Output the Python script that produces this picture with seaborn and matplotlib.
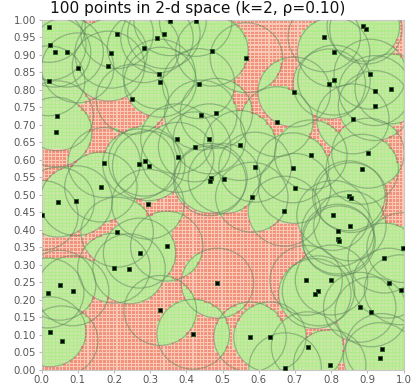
import numpy as np
import pandas as pd
import matplotlib
matplotlib.use("Agg")
import matplotlib.pyplot as plt
from matplotlib.colors import ListedColormap
from matplotlib.patches import Circle
import seaborn as sns

TITLE = "100 points in 2-d space (k=2, \u03c1=0.10)"
K = 2
RHO = 0.10

xs = [0.021, 0.209, 0.338, 0.319, 0.355, 0.426, 0.023, 0.036, 0.071, 0.282,
      0.192, 0.471, 0.100, 0.185, 0.325, 0.328, 0.020, 0.434, 0.251, 0.043,
      0.440, 0.483, 0.039, 0.374, 0.464, 0.423, 0.376, 0.173, 0.269, 0.285,
      0.296, 0.468, 0.465, 0.164, 0.566, 0.698, 0.650, 0.781, 0.889, 0.896,
      0.807, 0.908, 0.808, 0.795, 0.921, 0.966, 0.920, 0.860, 0.548, 0.744,
      0.902, 0.590, 0.694, 0.505, 0.886, 0.699, 0.581, 0.849, 0.855, 0.046,
      0.096, 0.294, 0.001, 0.209, 0.346, 0.271, 0.200, 0.242, 0.486, 0.050,
      0.086, 0.017, 0.328, 0.419, 0.023, 0.056, 0.671, 0.805, 0.852, 0.818,
      0.819, 0.822, 0.999, 0.947, 0.731, 0.801, 0.765, 0.755, 0.959, 0.992,
      0.879, 0.911, 0.576, 0.631, 0.735, 0.940, 0.934, 0.796, 0.673]
ys = [0.979, 0.961, 0.961, 0.948, 0.998, 0.996, 0.928, 0.908, 0.908, 0.921,
      0.905, 0.911, 0.863, 0.868, 0.845, 0.822, 0.826, 0.818, 0.773, 0.726,
      0.728, 0.733, 0.679, 0.660, 0.660, 0.637, 0.607, 0.592, 0.588, 0.596,
      0.583, 0.547, 0.540, 0.522, 0.892, 0.794, 0.709, 0.952, 0.982, 0.974,
      0.908, 0.845, 0.828, 0.817, 0.798, 0.803, 0.755, 0.717, 0.641, 0.614,
      0.619, 0.579, 0.577, 0.546, 0.573, 0.518, 0.493, 0.497, 0.492, 0.479,
      0.483, 0.473, 0.441, 0.393, 0.353, 0.333, 0.290, 0.288, 0.247, 0.241,
      0.225, 0.219, 0.169, 0.101, 0.108, 0.082, 0.453, 0.441, 0.411, 0.395,
      0.373, 0.368, 0.349, 0.319, 0.255, 0.256, 0.225, 0.217, 0.247, 0.228,
      0.178, 0.165, 0.093, 0.093, 0.065, 0.060, 0.034, 0.014, 0.005]

x_ticks = [round(0.1 * i, 1) for i in range(11)]
y_ticks = [round(0.05 * i, 2) for i in range(21)]

N_CELLS = 100

sns.set_style("white")
plt.rcParams['font.family'] = ['DejaVu Sans']

fig = plt.figure(figsize=(4.18, 3.89), dpi=100)
ax = fig.add_axes([41.5 / 418, 19.5 / 389, 362 / 418, 349.5 / 389])

px = np.array(xs)
py = np.array(ys)

# coverage grid: a cell is "dense" if at least K points lie within RHO of its centre
centers = (np.arange(N_CELLS) + 0.5) / N_CELLS
cx, cy = np.meshgrid(centers, centers)
d = np.sqrt((cx[..., None] - px) ** 2 + (cy[..., None] - py) ** 2)
dense = (d <= RHO).sum(axis=-1) >= K

# split mesh to draw each cell with a fill part and a lighter grid-line part
frac = 0.7
edges = []
for i in range(N_CELLS):
    edges += [i / N_CELLS, (i + frac) / N_CELLS]
edges.append(1.0)
edges = np.array(edges)
big = np.repeat(np.repeat(dense, 2, axis=0), 2, axis=1).astype(int)
ii, jj = np.meshgrid(np.arange(2 * N_CELLS), np.arange(2 * N_CELLS))
is_line = ((ii % 2) == 1) | ((jj % 2) == 1)
code = big * 2 + is_line.astype(int)
cmap = ListedColormap(['#F2917C', '#FAC9B6', '#C8E6A6', '#B0EC8C'])
ax.pcolormesh(edges, edges, code, cmap=cmap, vmin=-0.5, vmax=3.5,
              shading='flat', antialiased=False, rasterized=True)

for x, y in zip(xs, ys):
    ax.add_patch(Circle((x, y), RHO, fill=False, edgecolor='#5C845C',
                        alpha=0.5, linewidth=0.9, zorder=3))

df = pd.DataFrame({'x': xs, 'y': ys})
sns.scatterplot(data=df, x='x', y='y', ax=ax, marker='s', s=11,
                color='black', edgecolor='#1E5A1E', linewidth=0.6, zorder=5)

ax.set_xlim(0, 1)
ax.set_ylim(0, 1)
ax.set_xticks(x_ticks)
ax.set_xticklabels([f"{v:.1f}" for v in x_ticks])
ax.set_yticks(y_ticks)
ax.set_yticklabels([f"{v:.2f}" for v in y_ticks])
ax.set_xlabel('')
ax.set_ylabel('')
ax.tick_params(axis='both', labelsize=7.3, labelcolor='#555555',
               length=2, color='#bbbbbb', pad=2, direction='out')
ax.tick_params(left=True, bottom=True)
for s in ax.spines.values():
    s.set_color('#c8c8c8')
    s.set_linewidth(0.8)

fig.text(0.472, 1 - 9 / 389, TITLE, ha='center', va='center', fontsize=11.1,
         color='#111111')

fig.savefig('out.png', dpi=100)
